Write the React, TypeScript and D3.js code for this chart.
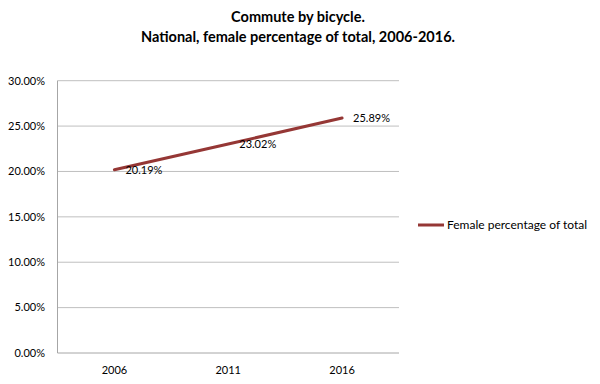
import React from "react";
import * as d3 from "d3";

const years = ["2006", "2011", "2016"];
const values = [20.19, 23.02, 25.89];
const yTicks = [0, 5, 10, 15, 20, 25, 30];
const seriesName = "Female percentage of total";
const titleLines = ["Commute by bicycle.", "National, female percentage of total, 2006-2016."];

export default function App() {
  const W = 600, H = 384;
  const left = 57.5, right = 399, top = 80.7, bottom = 353;
  const font = "Lato, 'Open Sans', sans-serif";
  const x = d3.scaleBand<string>().domain(years).range([left, right]);
  const y = d3.scaleLinear().domain([0, 30]).range([bottom, top]);
  const cx = (d: string) => (x(d) as number) + x.bandwidth() / 2;
  const line = d3.line<number>().x((_, i) => cx(years[i])).y((v) => y(v));
  const color = "#953735";
  return (
    <svg width={W} height={H} style={{ position: "absolute", left: 0, top: 0, background: "#fff" }}>
      <g fontFamily={font} fontWeight="bold" fontSize={14.5} textAnchor="middle" fill="#000">
        {titleLines.map((t, i) => (
          <text key={i} x={298} y={22 + i * 20}>{t}</text>
        ))}
      </g>
      {yTicks.map((t) => (
        <g key={t}>
          {t > 0 && <line x1={left} x2={right} y1={y(t)} y2={y(t)} stroke="#bfbfbf" strokeWidth={1} />}
          <text x={45} y={y(t)} dy="0.35em" textAnchor="end" fontFamily={font} fontSize={11} fill="#000">
            {t.toFixed(2)}%
          </text>
        </g>
      ))}
      <line x1={left} x2={left} y1={top} y2={bottom} stroke="#a6a6a6" />
      <line x1={left} x2={right} y1={bottom} y2={bottom} stroke="#a6a6a6" />
      {years.map((yr) => (
        <text key={yr} x={cx(yr)} y={bottom + 17} dy="0.35em" textAnchor="middle" fontFamily={font} fontSize={11} fill="#000">
          {yr}
        </text>
      ))}
      <path d={line(values) || ""} fill="none" stroke={color} strokeWidth={3} strokeLinecap="round" />
      {values.map((v, i) => (
        <text key={i} x={cx(years[i]) + 11} y={y(v)} dy="0.35em" fontFamily={font} fontSize={11} fill="#000">
          {v.toFixed(2)}%
        </text>
      ))}
      <line x1={418} x2={444} y1={225} y2={225} stroke={color} strokeWidth={3} />
      <text x={447} y={225} dy="0.35em" fontFamily={font} fontSize={12} fill="#000">{seriesName}</text>
    </svg>
  );
}
